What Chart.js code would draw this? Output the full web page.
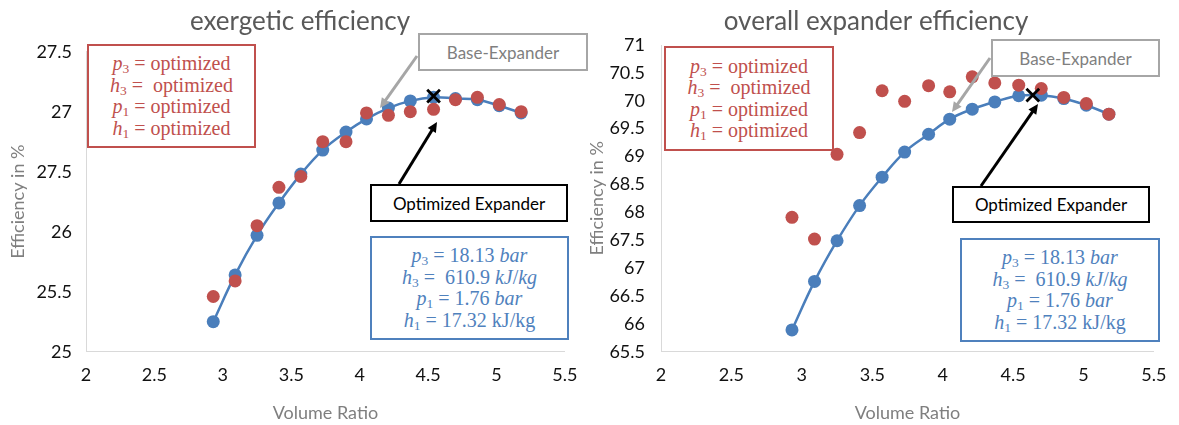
<!DOCTYPE html>
<html>
<head>
<meta charset="utf-8">
<script src="https://cdn.jsdelivr.net/npm/chart.js@4.4.0/dist/chart.umd.min.js"></script>
<style>
  body { margin: 0; background: #fff; }
  #wrap { position: relative; width: 1179px; height: 425px; overflow: hidden; }
  canvas { position: absolute; top: 0; }
  .box { position: absolute; box-sizing: border-box; background: #fff; text-align: center;
         display: flex; flex-direction: column; align-items: center; justify-content: center; }
  .math { font-family: "Liberation Serif", serif; font-size: 20px; line-height: 21.5px; }
  .math div { white-space: pre; }
  .math sub { font-size: 13.5px; vertical-align: -3px; line-height: 0; }
  .red { border: 2px solid #c0504d; color: #c0504d; }
  .blue { border: 2px solid #4f81bd; color: #4f81bd; }
  .label { font-family: Lato, sans-serif; font-size: 17px; }
  .gray { border: 2px solid #a6a6a6; color: #7f7f7f; }
  .black { border: 2px solid #000; color: #000; }
</style>
</head>
<body>
<div id="wrap">
  <canvas id="graficoExergetic" width="590" height="425" style="left:0px"></canvas>
  <canvas id="graficoOverall" width="595" height="425" style="left:584px"></canvas>

  <div class="box math red" style="left:87px;top:44px;width:169px;height:104px">
    <div><i>p</i><sub>3</sub> = optimized</div>
    <div><i>h</i><sub>3</sub> =  optimized</div>
    <div><i>p</i><sub>1</sub> = optimized</div>
    <div><i>h</i><sub>1</sub> = optimized</div>
  </div>
  <div class="box label gray" style="left:418px;top:33px;width:170px;height:38px">Base-Expander</div>
  <div class="box label black" style="left:370px;top:184px;width:198px;height:38px">Optimized Expander</div>
  <div class="box math blue" style="left:370px;top:236px;width:199px;height:104px">
    <div><i>p</i><sub>3</sub> = 18.13 <i>bar</i></div>
    <div><i>h</i><sub>3</sub> =  610.9 <i>kJ</i>/<i>kg</i></div>
    <div><i>p</i><sub>1</sub> = 1.76 <i>bar</i></div>
    <div><i>h</i><sub>1</sub> = 17.32 kJ/kg</div>
  </div>

  <div class="box math red" style="left:664px;top:46px;width:170px;height:105px">
    <div><i>p</i><sub>3</sub> = optimized</div>
    <div><i>h</i><sub>3</sub> =  optimized</div>
    <div><i>p</i><sub>1</sub> = optimized</div>
    <div><i>h</i><sub>1</sub> = optimized</div>
  </div>
  <div class="box label gray" style="left:991px;top:39px;width:169px;height:38px">Base-Expander</div>
  <div class="box label black" style="left:952px;top:186px;width:198px;height:37px">Optimized Expander</div>
  <div class="box math blue" style="left:960px;top:238px;width:200px;height:104px">
    <div><i>p</i><sub>3</sub> = 18.13 <i>bar</i></div>
    <div><i>h</i><sub>3</sub> =  610.9 <i>kJ</i>/<i>kg</i></div>
    <div><i>p</i><sub>1</sub> = 1.76 <i>bar</i></div>
    <div><i>h</i><sub>1</sub> = 17.32 kJ/kg</div>
  </div>
</div>

<script>
// volume ratios shared by both charts
const volumeRatio = [2.93, 3.09, 3.25, 3.41, 3.57, 3.73, 3.90, 4.05, 4.21, 4.37, 4.54, 4.70, 4.86, 5.02, 5.18]

// exergetic efficiency in %
const exergeticBase = [25.25, 25.64, 25.97, 26.24, 26.48, 26.68, 26.83, 26.94, 27.03, 27.09, 27.12, 27.11, 27.10, 27.05, 26.99]
const exergeticOptimized = [25.46, 25.59, 26.05, 26.37, 26.46, 26.75, 26.75, 26.99, 26.97, 27.00, 27.02, 27.10, 27.12, 27.06, 27.00]
const exergeticMarkX = [4.54]
const exergeticMarkY = [27.13]

// overall expander efficiency in %
const overallBase = [65.89, 66.76, 67.49, 68.12, 68.63, 69.08, 69.40, 69.67, 69.85, 69.98, 70.09, 70.10, 70.04, 69.92, 69.76]
const overallOptimized = [67.91, 67.52, 69.04, 69.43, 70.18, 69.99, 70.27, 70.16, 70.43, 70.32, 70.28, 70.22, 70.06, 69.95, 69.76]
const overallMarkX = [4.64]
const overallMarkY = [70.10]

// tick labels (as printed in the picture)
const xTickLabels = ['2', '2.5', '3', '3.5', '4', '4.5', '5', '5.5']
const exergeticTickLabels = ['25', '25.5', '26', '27.5', '27', '27.5']
const overallTickLabels = ['65.5', '66', '66.5', '67', '67.5', '68', '68.5', '69', '69.5', '70', '70.5', '71']

Chart.defaults.font.family = 'Lato'
Chart.defaults.animation = false

function pontos(xs, ys) {
    return xs.map((x, i) => ({ x: x, y: ys[i] }))
}

// arrows pointing at the expanders
const setasPlugin = {
    id: 'setas',
    afterDatasetsDraw(chart, args, opts) {
        const ctx = chart.ctx
        opts.lista.forEach(s => {
            const ang = Math.atan2(s.y2 - s.y1, s.x2 - s.x1)
            const head = 11
            ctx.save()
            ctx.strokeStyle = s.cor
            ctx.fillStyle = s.cor
            ctx.lineWidth = s.largura
            ctx.beginPath()
            ctx.moveTo(s.x1, s.y1)
            ctx.lineTo(s.x2 - Math.cos(ang) * head * 0.8, s.y2 - Math.sin(ang) * head * 0.8)
            ctx.stroke()
            ctx.beginPath()
            ctx.moveTo(s.x2, s.y2)
            ctx.lineTo(s.x2 - Math.cos(ang - 0.45) * head, s.y2 - Math.sin(ang - 0.45) * head)
            ctx.lineTo(s.x2 - Math.cos(ang + 0.45) * head, s.y2 - Math.sin(ang + 0.45) * head)
            ctx.closePath()
            ctx.fill()
            ctx.restore()
        })
    }
}

function criaGrafico(elemento, cfg) {
    return new Chart(elemento, {
        type: 'scatter',
        data: {
            datasets: [
                {
                    label: 'mark',
                    data: pontos(cfg.markX, cfg.markY),
                    pointStyle: 'crossRot',
                    pointRadius: 9,
                    pointBorderWidth: 2.8,
                    borderColor: '#000',
                    backgroundColor: '#000',
                    showLine: false,
                    order: 0
                },
                {
                    label: 'optimized',
                    data: pontos(volumeRatio, cfg.optimized),
                    pointRadius: 6.5,
                    pointBorderWidth: 0,
                    backgroundColor: '#c0504d',
                    borderColor: '#c0504d',
                    showLine: false,
                    order: 1
                },
                {
                    label: 'base',
                    data: pontos(volumeRatio, cfg.base),
                    pointRadius: 6.5,
                    pointBorderWidth: 0,
                    backgroundColor: '#4a7ebb',
                    borderColor: '#4a7ebb',
                    borderWidth: 2.5,
                    showLine: true,
                    tension: 0.4,
                    order: 2
                }
            ]
        },
        options: {
            responsive: false,
            devicePixelRatio: 1,
            events: [],
            layout: { padding: { left: cfg.padLeft, right: cfg.padRight, top: 0, bottom: 0 } },
            plugins: {
                legend: { display: false },
                tooltip: { enabled: false },
                title: {
                    display: true,
                    text: cfg.titulo,
                    color: '#595959',
                    font: { size: 26, weight: 'normal', lineHeight: 1.2 },
                    padding: { top: 6, bottom: cfg.titlePadBottom }
                },
                setas: { lista: cfg.setas }
            },
            scales: {
                x: {
                    type: 'linear',
                    position: 'bottom',
                    min: 2,
                    max: 5.5,
                    afterFit: (scale) => { scale.height = 73.3 },
                    grid: { display: false, drawTicks: false },
                    border: { display: true, color: '#d9d9d9', width: 1 },
                    ticks: {
                        stepSize: 0.5,
                        padding: 12.5,
                        color: '#111',
                        font: { size: 18 },
                        callback: (v, i) => xTickLabels[i]
                    },
                    title: {
                        display: true,
                        text: 'Volume Ratio',
                        color: '#7f7f7f',
                        font: { size: 18 },
                        padding: { top: 0, bottom: 1.5 }
                    }
                },
                y: {
                    min: cfg.yMin,
                    max: cfg.yMax,
                    afterFit: (scale) => { scale.width = cfg.yWidth },
                    grid: { display: false, drawTicks: false },
                    border: { display: true, color: '#d9d9d9', width: 1 },
                    ticks: {
                        stepSize: 0.5,
                        padding: cfg.yTickPad,
                        color: '#111',
                        font: { size: 18 },
                        callback: (v, i) => cfg.tickLabels[i]
                    },
                    title: {
                        display: true,
                        text: 'Efficiency in %',
                        color: '#7f7f7f',
                        font: { size: 18 },
                        padding: { top: cfg.yTitlePad, bottom: 0 }
                    }
                }
            }
        },
        plugins: [setasPlugin]
    })
}

const graficoExergetic = criaGrafico(document.querySelector('#graficoExergetic'), {
    titulo: 'exergetic efficiency',
    base: exergeticBase,
    optimized: exergeticOptimized,
    markX: exergeticMarkX,
    markY: exergeticMarkY,
    yMin: 25,
    yMax: 27.5,
    tickLabels: exergeticTickLabels,
    padLeft: 22,
    padRight: 12,
    titlePadBottom: 14.5,
    yWidth: 64,
    yTickPad: 14,
    yTitlePad: -15,
    setas: [
        { x1: 417, y1: 56, x2: 380, y2: 108, cor: '#a6a6a6', largura: 3 },
        { x1: 399, y1: 184, x2: 437, y2: 122, cor: '#000', largura: 3 }
    ]
})

const graficoOverall = criaGrafico(document.querySelector('#graficoOverall'), {
    titulo: 'overall expander efficiency',
    base: overallBase,
    optimized: overallOptimized,
    markX: overallMarkX,
    markY: overallMarkY,
    yMin: 65.5,
    yMax: 71,
    tickLabels: overallTickLabels,
    padLeft: 8,
    padRight: 19,
    titlePadBottom: 7.8,
    yWidth: 69,
    yTickPad: 16,
    yTitlePad: -5.5,
    setas: [
        { x1: 406, y1: 58, x2: 368, y2: 112, cor: '#a6a6a6', largura: 3 },
        { x1: 397, y1: 186, x2: 454, y2: 104, cor: '#000', largura: 3 }
    ]
})
</script>
</body>
</html>
